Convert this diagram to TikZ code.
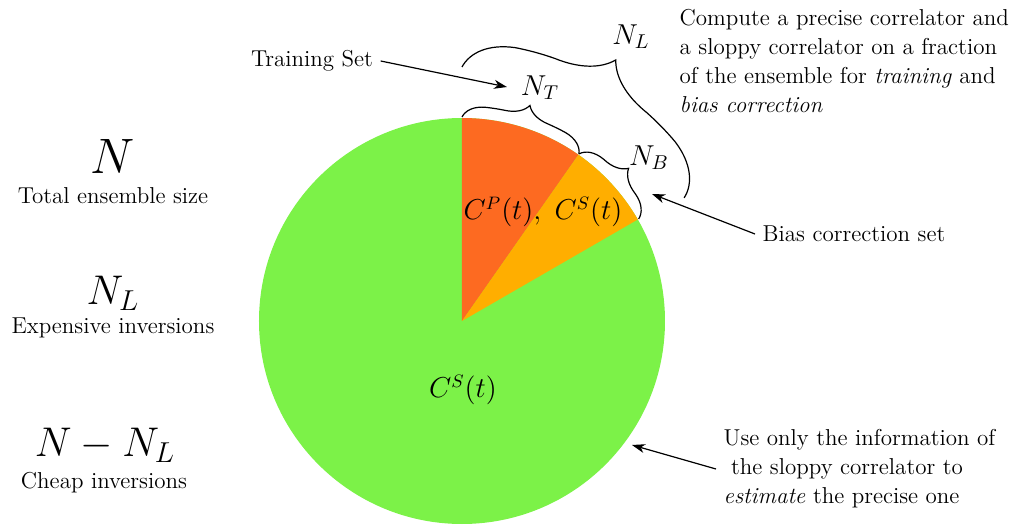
\documentclass[tikz,border=0pt,11pt]{standalone}
\usetikzlibrary{arrows.meta}

\definecolor{pred}{RGB}{253,106,33}
\definecolor{porange}{RGB}{255,174,0}
\definecolor{pgreen}{RGB}{124,242,72}

\tikzset{
  txt/.style={font=\fontsize{11.5}{14.5}\selectfont},
  sym/.style={font=\huge},
  pielbl/.style={font=\Large},
  brc/.style={semithick},
  pointer/.style={-{Stealth[length=6.5pt,width=4.5pt,inset=2pt]},semithick},
}

% curly brace bent along a circle round the origin
\newcommand{\arcbrace}[4]{%
  \pgfmathsetmacro{\brK}{180/(pi*#3)}%
  \pgfmathsetmacro{\brM}{(#1+#2)/2}%
  \pgfmathsetmacro{\brAa}{#1-0.15*#4*\brK}%
  \pgfmathsetmacro{\brAb}{#1-0.5*#4*\brK}%
  \pgfmathsetmacro{\brAc}{#1-#4*\brK}%
  \pgfmathsetmacro{\brBc}{\brM+#4*\brK}%
  \pgfmathsetmacro{\brBb}{\brM+0.5*#4*\brK}%
  \pgfmathsetmacro{\brBa}{\brM+0.15*#4*\brK}%
  \pgfmathsetmacro{\brCa}{\brM-0.15*#4*\brK}%
  \pgfmathsetmacro{\brCb}{\brM-0.5*#4*\brK}%
  \pgfmathsetmacro{\brCc}{\brM-#4*\brK}%
  \pgfmathsetmacro{\brDc}{#2+#4*\brK}%
  \pgfmathsetmacro{\brDb}{#2+0.5*#4*\brK}%
  \pgfmathsetmacro{\brDa}{#2+0.15*#4*\brK}%
  \pgfmathsetmacro{\brRa}{#3+0.3*#4}%
  \pgfmathsetmacro{\brRb}{#3+0.5*#4}%
  \pgfmathsetmacro{\brRc}{#3+0.7*#4}%
  \pgfmathsetmacro{\brRd}{#3+#4}%
  \draw[brc] (#1:#3) .. controls (\brAa:\brRa) and (\brAb:\brRb) .. (\brAc:\brRb)
    arc[start angle=\brAc, end angle=\brBc, radius=\brRb]
    .. controls (\brBb:\brRb) and (\brBa:\brRc) .. (\brM:\brRd)
    .. controls (\brCa:\brRc) and (\brCb:\brRb) .. (\brCc:\brRb)
    arc[start angle=\brCc, end angle=\brDc, radius=\brRb]
    .. controls (\brDb:\brRb) and (\brDa:\brRa) .. (#2:#3);
}

\begin{document}
\begin{tikzpicture}[x=0.5pt,y=0.5pt]

%SPACING
\useasboundingbox (-462,-204) rectangle (551,321);
%SPACING

%PIE
\fill[pgreen] (0,0) circle[radius=203];
\fill[pred] (0,0) -- (90:203) arc[start angle=90,end angle=55,radius=203] -- cycle;
\fill[porange] (0,0) -- (55:203) arc[start angle=55,end angle=30,radius=203] -- cycle;

\node[pielbl,font=\fontsize{13.3}{16}\selectfont](cpcs) at (81,109) {$C^P(t),\ C^S(t)$};
\node[pielbl,font=\fontsize{13.3}{16}\selectfont](cs) at (1,-69) {$C^S(t)$};

%BRACES
\arcbrace{90}{55}{204}{22}
\arcbrace{55}{30}{204}{22}
\arcbrace{90}{29}{254}{49}

\node[pielbl](nt) at (78,233) {$N_T$};
\node[pielbl](nb) at (187,163) {$N_B$};
\node[pielbl](nl) at (169,284) {$N_L$};

%LEFT
\node[sym,font=\Huge](n0) at (-349,164) {$N$};
\node[txt](n0t) at (-349,125) {Total ensemble size};
\node[sym](n1) at (-349,28) {$N_L$};
\node[txt](n1t) at (-349,-7) {Expensive inversions};
\node[sym](n2) at (-357,-124) {$N-N_L$};
\node[txt](n2t) at (-358,-162) {Cheap inversions};

%RIGHT
\node[txt,align=left,anchor=west](comp) at (210,260) {Compute a precise correlator and\\
  a sloppy correlator on a fraction\\
  of the ensemble for \textit{training}\ and\\
  \textit{bias correction}};
\node[txt](tset) at (-150,260) {Training Set};
\node[txt](bias) at (392,87) {Bias correction set};
\node[txt,align=left,anchor=west](use) at (254,-148) {Use only the information of\\
  \ the sloppy correlator to\\
  \textit{estimate} the precise one};

\coordinate (ttip) at (45,234);
\coordinate (btip) at (190,127);
\coordinate (utip) at (170,-124);

\draw[pointer] (tset.east) -- (ttip);
\draw[pointer] (bias.west) -- (btip);
\draw[pointer] (use.west) -- (utip);

\end{tikzpicture}
\end{document}
